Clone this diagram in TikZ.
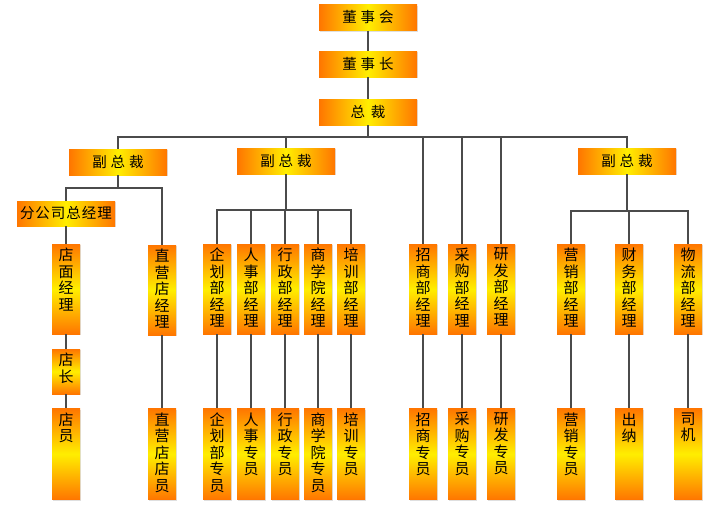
\documentclass[tikz,border=0pt]{standalone}
\usepackage{fontspec}
\setmainfont{Noto Sans CJK SC}
\usetikzlibrary{shadows}
\definecolor{org}{RGB}{255,118,0}
\definecolor{ylw}{RGB}{255,238,0}
\definecolor{lnc}{RGB}{75,75,75}
\newcommand{\vtxt}[2]{\parbox[c][#1pt][t]{28pt}{\vskip 4pt\centering\fontsize{15}{16.5}\selectfont #2\par}}
\newcommand{\hs}{\hspace{4pt}}
\tikzset{
  shd/.style={drop shadow={shadow xshift=1.2pt,shadow yshift=-1.2pt,opacity=0.25,fill=gray}},
  vbx/.style={rectangle,inner sep=0pt,top color=org,bottom color=org,middle color=ylw,text=black,shd},
  hbx/.style={rectangle,inner sep=0pt,minimum width=98pt,minimum height=26pt,left color=org,right color=org,middle color=ylw,text=black,font=\fontsize{14.5}{16}\selectfont,shd},
  conn/.style={draw=lnc,line width=1.5pt}
}
\begin{document}
\begin{tikzpicture}[x=1pt,y=-1pt]
\useasboundingbox (0,0) rectangle (720,507);
% top chain
\node[hbx] (dsh) at (368,17.5) {董\hs 事\hs 会};
\node[hbx] (dsz) at (368,64) {董\hs 事\hs 长};
\node[hbx] (zc) at (368,112) {总\hspace{6pt}裁};
% vice presidents
\node[hbx] (vp1) at (118,162) {副\hs 总\hs 裁};
\node[hbx] (vp2) at (286,161) {副\hs 总\hs 裁};
\node[hbx] (vp3) at (627,161) {副\hs 总\hs 裁};
\node[hbx,minimum height=25pt] (fgs) at (66,213.5) {分\hspace{1pt}公\hspace{1pt}司\hspace{1pt}总\hspace{1pt}经\hspace{1pt}理};
% managers row
\node[vbx] (dmj) at (66,289) {\vtxt{90}{店\\面\\经\\理}};
\node[vbx] (zyj) at (162,290) {\vtxt{90}{直\\营\\店\\经\\理}};
\node[vbx] (qh) at (217,289) {\vtxt{90}{企\\划\\部\\经\\理}};
\node[vbx] (rs) at (251,289) {\vtxt{90}{人\\事\\部\\经\\理}};
\node[vbx] (xz) at (285,289) {\vtxt{90}{行\\政\\部\\经\\理}};
\node[vbx] (sxy) at (318,289) {\vtxt{90}{商\\学\\院\\经\\理}};
\node[vbx] (px) at (351,289) {\vtxt{90}{培\\训\\部\\经\\理}};
\node[vbx] (zs) at (423,289) {\vtxt{90}{招\\商\\部\\经\\理}};
\node[vbx] (cg) at (462,289) {\vtxt{90}{采\\购\\部\\经\\理}};
\node[vbx] (yf) at (501,289) {\vtxt{90}{研\\发\\部\\经\\理}};
\node[vbx] (yx) at (571,289) {\vtxt{90}{营\\销\\部\\经\\理}};
\node[vbx] (cw) at (629,289) {\vtxt{90}{财\\务\\部\\经\\理}};
\node[vbx] (wl) at (688,289) {\vtxt{90}{物\\流\\部\\经\\理}};
% store manager
\node[vbx] (dz) at (66,371.5) {\vtxt{45}{店\\长}};
% staff row
\node[vbx] (dy) at (66,454) {\vtxt{91}{店\\员}};
\node[vbx] (zyy) at (162,454) {\vtxt{91}{直\\营\\店\\店\\员}};
\node[vbx] (qhy) at (217,454) {\vtxt{91}{企\\划\\部\\专\\员}};
\node[vbx] (rsy) at (251,454) {\vtxt{91}{人\\事\\专\\员}};
\node[vbx] (xzy) at (285,454) {\vtxt{91}{行\\政\\专\\员}};
\node[vbx] (sxyy) at (318,454) {\vtxt{91}{商\\学\\院\\专\\员}};
\node[vbx] (pxy) at (351,454) {\vtxt{91}{培\\训\\专\\员}};
\node[vbx] (zsy) at (423,454) {\vtxt{91}{招\\商\\专\\员}};
\node[vbx] (cgy) at (462,454) {\vtxt{91}{采\\购\\专\\员}};
\node[vbx] (yfy) at (501,454) {\vtxt{91}{研\\发\\专\\员}};
\node[vbx] (yxy) at (571,454) {\vtxt{91}{营\\销\\专\\员}};
\node[vbx] (cn) at (629,454) {\vtxt{91}{出\\纳}};
\node[vbx] (sj) at (688,454) {\vtxt{91}{司\\机}};
% connectors
\coordinate (b0) at (368,137);
\coordinate (b1) at (118,188);
\coordinate (b2) at (286,210);
\coordinate (b3) at (627,211);
\draw[conn] (dsh) -- (dsz);
\draw[conn] (dsz) -- (zc);
\draw[conn] (zc) -- (b0);
\foreach \n in {vp1,vp2,zs,cg,yf,vp3} \draw[conn] (b0) -| (\n.north);
\draw[conn] (vp1) -- (b1);
\foreach \n in {fgs,zyj} \draw[conn] (b1) -| (\n.north);
\draw[conn] (vp2) -- (b2);
\foreach \n in {qh,rs,xz,sxy,px} \draw[conn] (b2) -| (\n.north);
\draw[conn] (vp3) -- (b3);
\foreach \n in {yx,cw,wl} \draw[conn] (b3) -| (\n.north);
\draw[conn] (fgs) -- (dmj);
\draw[conn] (dmj) -- (dz);
\draw[conn] (dz) -- (dy);
\foreach \a/\b in {zyj/zyy,qh/qhy,rs/rsy,xz/xzy,sxy/sxyy,px/pxy,zs/zsy,cg/cgy,yf/yfy,yx/yxy,cw/cn,wl/sj}
  \draw[conn] (\a) -- (\b);
\end{tikzpicture}
\end{document}
